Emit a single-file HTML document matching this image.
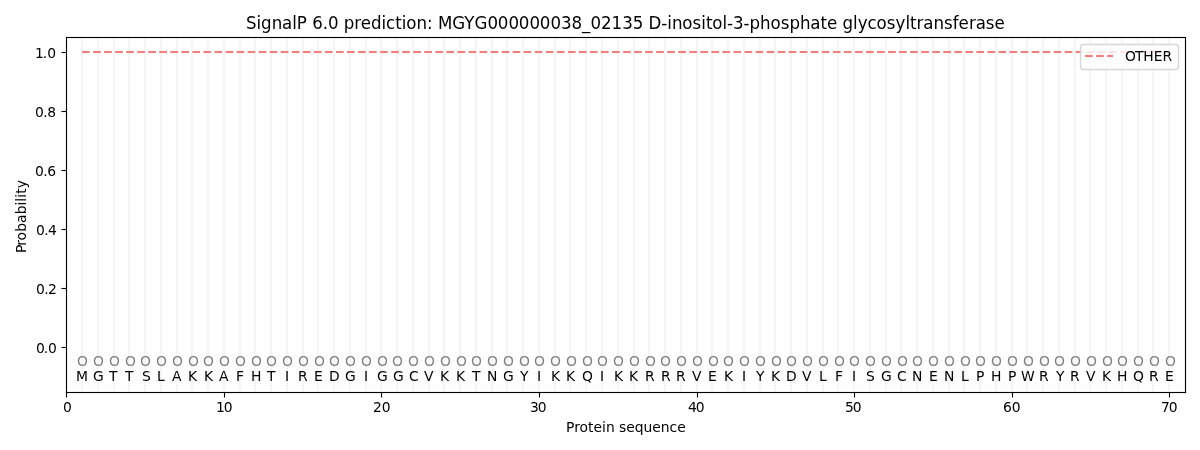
<!DOCTYPE html>
<html lang="en">
<head>
<meta charset="utf-8">
<title>SignalP 6.0 prediction</title>
<style>
html,body{margin:0;padding:0;background:#fff;overflow:hidden}
svg{display:block}
text{white-space:pre}
</style>
</head>
<body>
<svg width="1200" height="450" viewBox="0 0 1200 450" font-family="'DejaVu Sans', 'Liberation Sans', sans-serif" font-size="13.8889px">
<rect width="1200" height="450" fill="#fff"/>
<g fill="#fefefe">
<rect x="80" y="37.5" width="4" height="355.0"/>
<rect x="96" y="37.5" width="4" height="355.0"/>
<rect x="112" y="37.5" width="4" height="355.0"/>
<rect x="127" y="37.5" width="4" height="355.0"/>
<rect x="143" y="37.5" width="4" height="355.0"/>
<rect x="159" y="37.5" width="4" height="355.0"/>
<rect x="175" y="37.5" width="4" height="355.0"/>
<rect x="190" y="37.5" width="4" height="355.0"/>
<rect x="206" y="37.5" width="4" height="355.0"/>
<rect x="222" y="37.5" width="4" height="355.0"/>
<rect x="238" y="37.5" width="4" height="355.0"/>
<rect x="253" y="37.5" width="4" height="355.0"/>
<rect x="269" y="37.5" width="4" height="355.0"/>
<rect x="285" y="37.5" width="4" height="355.0"/>
<rect x="301" y="37.5" width="4" height="355.0"/>
<rect x="316" y="37.5" width="4" height="355.0"/>
<rect x="332" y="37.5" width="4" height="355.0"/>
<rect x="348" y="37.5" width="4" height="355.0"/>
<rect x="364" y="37.5" width="4" height="355.0"/>
<rect x="379" y="37.5" width="4" height="355.0"/>
<rect x="395" y="37.5" width="4" height="355.0"/>
<rect x="411" y="37.5" width="4" height="355.0"/>
<rect x="427" y="37.5" width="4" height="355.0"/>
<rect x="442" y="37.5" width="4" height="355.0"/>
<rect x="458" y="37.5" width="4" height="355.0"/>
<rect x="474" y="37.5" width="4" height="355.0"/>
<rect x="490" y="37.5" width="4" height="355.0"/>
<rect x="505" y="37.5" width="4" height="355.0"/>
<rect x="521" y="37.5" width="4" height="355.0"/>
<rect x="537" y="37.5" width="4" height="355.0"/>
<rect x="553" y="37.5" width="4" height="355.0"/>
<rect x="568" y="37.5" width="4" height="355.0"/>
<rect x="584" y="37.5" width="4" height="355.0"/>
<rect x="600" y="37.5" width="4" height="355.0"/>
<rect x="616" y="37.5" width="4" height="355.0"/>
<rect x="632" y="37.5" width="4" height="355.0"/>
<rect x="647" y="37.5" width="4" height="355.0"/>
<rect x="663" y="37.5" width="4" height="355.0"/>
<rect x="679" y="37.5" width="4" height="355.0"/>
<rect x="695" y="37.5" width="4" height="355.0"/>
<rect x="710" y="37.5" width="4" height="355.0"/>
<rect x="726" y="37.5" width="4" height="355.0"/>
<rect x="742" y="37.5" width="4" height="355.0"/>
<rect x="758" y="37.5" width="4" height="355.0"/>
<rect x="773" y="37.5" width="4" height="355.0"/>
<rect x="789" y="37.5" width="4" height="355.0"/>
<rect x="805" y="37.5" width="4" height="355.0"/>
<rect x="821" y="37.5" width="4" height="355.0"/>
<rect x="836" y="37.5" width="4" height="355.0"/>
<rect x="852" y="37.5" width="4" height="355.0"/>
<rect x="868" y="37.5" width="4" height="355.0"/>
<rect x="884" y="37.5" width="4" height="355.0"/>
<rect x="899" y="37.5" width="4" height="355.0"/>
<rect x="915" y="37.5" width="4" height="355.0"/>
<rect x="931" y="37.5" width="4" height="355.0"/>
<rect x="947" y="37.5" width="4" height="355.0"/>
<rect x="962" y="37.5" width="4" height="355.0"/>
<rect x="978" y="37.5" width="4" height="355.0"/>
<rect x="994" y="37.5" width="4" height="355.0"/>
<rect x="1010" y="37.5" width="4" height="355.0"/>
<rect x="1025" y="37.5" width="4" height="355.0"/>
<rect x="1041" y="37.5" width="4" height="355.0"/>
<rect x="1057" y="37.5" width="4" height="355.0"/>
<rect x="1073" y="37.5" width="4" height="355.0"/>
<rect x="1088" y="37.5" width="4" height="355.0"/>
<rect x="1104" y="37.5" width="4" height="355.0"/>
<rect x="1120" y="37.5" width="4" height="355.0"/>
<rect x="1136" y="37.5" width="4" height="355.0"/>
<rect x="1151" y="37.5" width="4" height="355.0"/>
<rect x="1167" y="37.5" width="4" height="355.0"/>
</g>
<g fill="#f5f5f5">
<rect x="81" y="37.5" width="2" height="355.0"/>
<rect x="97" y="37.5" width="2" height="355.0"/>
<rect x="113" y="37.5" width="2" height="355.0"/>
<rect x="128" y="37.5" width="2" height="355.0"/>
<rect x="144" y="37.5" width="2" height="355.0"/>
<rect x="160" y="37.5" width="2" height="355.0"/>
<rect x="176" y="37.5" width="2" height="355.0"/>
<rect x="191" y="37.5" width="2" height="355.0"/>
<rect x="207" y="37.5" width="2" height="355.0"/>
<rect x="223" y="37.5" width="2" height="355.0"/>
<rect x="239" y="37.5" width="2" height="355.0"/>
<rect x="254" y="37.5" width="2" height="355.0"/>
<rect x="270" y="37.5" width="2" height="355.0"/>
<rect x="286" y="37.5" width="2" height="355.0"/>
<rect x="302" y="37.5" width="2" height="355.0"/>
<rect x="317" y="37.5" width="2" height="355.0"/>
<rect x="333" y="37.5" width="2" height="355.0"/>
<rect x="349" y="37.5" width="2" height="355.0"/>
<rect x="365" y="37.5" width="2" height="355.0"/>
<rect x="380" y="37.5" width="2" height="355.0"/>
<rect x="396" y="37.5" width="2" height="355.0"/>
<rect x="412" y="37.5" width="2" height="355.0"/>
<rect x="428" y="37.5" width="2" height="355.0"/>
<rect x="443" y="37.5" width="2" height="355.0"/>
<rect x="459" y="37.5" width="2" height="355.0"/>
<rect x="475" y="37.5" width="2" height="355.0"/>
<rect x="491" y="37.5" width="2" height="355.0"/>
<rect x="506" y="37.5" width="2" height="355.0"/>
<rect x="522" y="37.5" width="2" height="355.0"/>
<rect x="538" y="37.5" width="2" height="355.0"/>
<rect x="554" y="37.5" width="2" height="355.0"/>
<rect x="569" y="37.5" width="2" height="355.0"/>
<rect x="585" y="37.5" width="2" height="355.0"/>
<rect x="601" y="37.5" width="2" height="355.0"/>
<rect x="617" y="37.5" width="2" height="355.0"/>
<rect x="633" y="37.5" width="2" height="355.0"/>
<rect x="648" y="37.5" width="2" height="355.0"/>
<rect x="664" y="37.5" width="2" height="355.0"/>
<rect x="680" y="37.5" width="2" height="355.0"/>
<rect x="696" y="37.5" width="2" height="355.0"/>
<rect x="711" y="37.5" width="2" height="355.0"/>
<rect x="727" y="37.5" width="2" height="355.0"/>
<rect x="743" y="37.5" width="2" height="355.0"/>
<rect x="759" y="37.5" width="2" height="355.0"/>
<rect x="774" y="37.5" width="2" height="355.0"/>
<rect x="790" y="37.5" width="2" height="355.0"/>
<rect x="806" y="37.5" width="2" height="355.0"/>
<rect x="822" y="37.5" width="2" height="355.0"/>
<rect x="837" y="37.5" width="2" height="355.0"/>
<rect x="853" y="37.5" width="2" height="355.0"/>
<rect x="869" y="37.5" width="2" height="355.0"/>
<rect x="885" y="37.5" width="2" height="355.0"/>
<rect x="900" y="37.5" width="2" height="355.0"/>
<rect x="916" y="37.5" width="2" height="355.0"/>
<rect x="932" y="37.5" width="2" height="355.0"/>
<rect x="948" y="37.5" width="2" height="355.0"/>
<rect x="963" y="37.5" width="2" height="355.0"/>
<rect x="979" y="37.5" width="2" height="355.0"/>
<rect x="995" y="37.5" width="2" height="355.0"/>
<rect x="1011" y="37.5" width="2" height="355.0"/>
<rect x="1026" y="37.5" width="2" height="355.0"/>
<rect x="1042" y="37.5" width="2" height="355.0"/>
<rect x="1058" y="37.5" width="2" height="355.0"/>
<rect x="1074" y="37.5" width="2" height="355.0"/>
<rect x="1089" y="37.5" width="2" height="355.0"/>
<rect x="1105" y="37.5" width="2" height="355.0"/>
<rect x="1121" y="37.5" width="2" height="355.0"/>
<rect x="1137" y="37.5" width="2" height="355.0"/>
<rect x="1152" y="37.5" width="2" height="355.0"/>
<rect x="1168" y="37.5" width="2" height="355.0"/>
</g>
<g fill="#f08080">
<rect x="82" y="50.9583" width="7.7083" height="2.0833"/>
<rect x="93.0417" y="50.9583" width="7.7083" height="2.0833"/>
<rect x="104.0833" y="50.9583" width="7.7083" height="2.0833"/>
<rect x="115.125" y="50.9583" width="7.7083" height="2.0833"/>
<rect x="126.1667" y="50.9583" width="7.7083" height="2.0833"/>
<rect x="137.2083" y="50.9583" width="7.7083" height="2.0833"/>
<rect x="148.25" y="50.9583" width="7.7083" height="2.0833"/>
<rect x="159.2917" y="50.9583" width="7.7083" height="2.0833"/>
<rect x="170.3333" y="50.9583" width="7.7083" height="2.0833"/>
<rect x="181.375" y="50.9583" width="7.7083" height="2.0833"/>
<rect x="192.4167" y="50.9583" width="7.7083" height="2.0833"/>
<rect x="203.4583" y="50.9583" width="7.7083" height="2.0833"/>
<rect x="214.5" y="50.9583" width="7.7083" height="2.0833"/>
<rect x="225.5417" y="50.9583" width="7.7083" height="2.0833"/>
<rect x="236.5833" y="50.9583" width="7.7083" height="2.0833"/>
<rect x="247.625" y="50.9583" width="7.7083" height="2.0833"/>
<rect x="258.6667" y="50.9583" width="7.7083" height="2.0833"/>
<rect x="269.7083" y="50.9583" width="7.7083" height="2.0833"/>
<rect x="280.75" y="50.9583" width="7.7083" height="2.0833"/>
<rect x="291.7917" y="50.9583" width="7.7083" height="2.0833"/>
<rect x="302.8333" y="50.9583" width="7.7083" height="2.0833"/>
<rect x="313.875" y="50.9583" width="7.7083" height="2.0833"/>
<rect x="324.9167" y="50.9583" width="7.7083" height="2.0833"/>
<rect x="335.9583" y="50.9583" width="7.7083" height="2.0833"/>
<rect x="347" y="50.9583" width="7.7083" height="2.0833"/>
<rect x="358.0417" y="50.9583" width="7.7083" height="2.0833"/>
<rect x="369.0833" y="50.9583" width="7.7083" height="2.0833"/>
<rect x="380.125" y="50.9583" width="7.7083" height="2.0833"/>
<rect x="391.1667" y="50.9583" width="7.7083" height="2.0833"/>
<rect x="402.2083" y="50.9583" width="7.7083" height="2.0833"/>
<rect x="413.25" y="50.9583" width="7.7083" height="2.0833"/>
<rect x="424.2917" y="50.9583" width="7.7083" height="2.0833"/>
<rect x="435.3333" y="50.9583" width="7.7083" height="2.0833"/>
<rect x="446.375" y="50.9583" width="7.7083" height="2.0833"/>
<rect x="457.4167" y="50.9583" width="7.7083" height="2.0833"/>
<rect x="468.4583" y="50.9583" width="7.7083" height="2.0833"/>
<rect x="479.5" y="50.9583" width="7.7083" height="2.0833"/>
<rect x="490.5417" y="50.9583" width="7.7083" height="2.0833"/>
<rect x="501.5833" y="50.9583" width="7.7083" height="2.0833"/>
<rect x="512.625" y="50.9583" width="7.7083" height="2.0833"/>
<rect x="523.6667" y="50.9583" width="7.7083" height="2.0833"/>
<rect x="534.7083" y="50.9583" width="7.7083" height="2.0833"/>
<rect x="545.75" y="50.9583" width="7.7083" height="2.0833"/>
<rect x="556.7917" y="50.9583" width="7.7083" height="2.0833"/>
<rect x="567.8333" y="50.9583" width="7.7083" height="2.0833"/>
<rect x="578.875" y="50.9583" width="7.7083" height="2.0833"/>
<rect x="589.9167" y="50.9583" width="7.7083" height="2.0833"/>
<rect x="600.9583" y="50.9583" width="7.7083" height="2.0833"/>
<rect x="612" y="50.9583" width="7.7083" height="2.0833"/>
<rect x="623.0417" y="50.9583" width="7.7083" height="2.0833"/>
<rect x="634.0833" y="50.9583" width="7.7083" height="2.0833"/>
<rect x="645.125" y="50.9583" width="7.7083" height="2.0833"/>
<rect x="656.1667" y="50.9583" width="7.7083" height="2.0833"/>
<rect x="667.2083" y="50.9583" width="7.7083" height="2.0833"/>
<rect x="678.25" y="50.9583" width="7.7083" height="2.0833"/>
<rect x="689.2917" y="50.9583" width="7.7083" height="2.0833"/>
<rect x="700.3333" y="50.9583" width="7.7083" height="2.0833"/>
<rect x="711.375" y="50.9583" width="7.7083" height="2.0833"/>
<rect x="722.4167" y="50.9583" width="7.7083" height="2.0833"/>
<rect x="733.4583" y="50.9583" width="7.7083" height="2.0833"/>
<rect x="744.5" y="50.9583" width="7.7083" height="2.0833"/>
<rect x="755.5417" y="50.9583" width="7.7083" height="2.0833"/>
<rect x="766.5833" y="50.9583" width="7.7083" height="2.0833"/>
<rect x="777.625" y="50.9583" width="7.7083" height="2.0833"/>
<rect x="788.6667" y="50.9583" width="7.7083" height="2.0833"/>
<rect x="799.7083" y="50.9583" width="7.7083" height="2.0833"/>
<rect x="810.75" y="50.9583" width="7.7083" height="2.0833"/>
<rect x="821.7917" y="50.9583" width="7.7083" height="2.0833"/>
<rect x="832.8333" y="50.9583" width="7.7083" height="2.0833"/>
<rect x="843.875" y="50.9583" width="7.7083" height="2.0833"/>
<rect x="854.9167" y="50.9583" width="7.7083" height="2.0833"/>
<rect x="865.9583" y="50.9583" width="7.7083" height="2.0833"/>
<rect x="877" y="50.9583" width="7.7083" height="2.0833"/>
<rect x="888.0417" y="50.9583" width="7.7083" height="2.0833"/>
<rect x="899.0833" y="50.9583" width="7.7083" height="2.0833"/>
<rect x="910.125" y="50.9583" width="7.7083" height="2.0833"/>
<rect x="921.1667" y="50.9583" width="7.7083" height="2.0833"/>
<rect x="932.2083" y="50.9583" width="7.7083" height="2.0833"/>
<rect x="943.25" y="50.9583" width="7.7083" height="2.0833"/>
<rect x="954.2917" y="50.9583" width="7.7083" height="2.0833"/>
<rect x="965.3333" y="50.9583" width="7.7083" height="2.0833"/>
<rect x="976.375" y="50.9583" width="7.7083" height="2.0833"/>
<rect x="987.4167" y="50.9583" width="7.7083" height="2.0833"/>
<rect x="998.4583" y="50.9583" width="7.7083" height="2.0833"/>
<rect x="1009.5" y="50.9583" width="7.7083" height="2.0833"/>
<rect x="1020.5417" y="50.9583" width="7.7083" height="2.0833"/>
<rect x="1031.5833" y="50.9583" width="7.7083" height="2.0833"/>
<rect x="1042.625" y="50.9583" width="7.7083" height="2.0833"/>
<rect x="1053.6667" y="50.9583" width="7.7083" height="2.0833"/>
<rect x="1064.7083" y="50.9583" width="7.7083" height="2.0833"/>
<rect x="1075.75" y="50.9583" width="7.7083" height="2.0833"/>
<rect x="1086.7917" y="50.9583" width="7.7083" height="2.0833"/>
<rect x="1097.8333" y="50.9583" width="7.7083" height="2.0833"/>
<rect x="1108.875" y="50.9583" width="7.7083" height="2.0833"/>
<rect x="1119.9167" y="50.9583" width="7.7083" height="2.0833"/>
<rect x="1130.9583" y="50.9583" width="7.7083" height="2.0833"/>
<rect x="1142" y="50.9583" width="7.7083" height="2.0833"/>
<rect x="1153.0417" y="50.9583" width="7.7083" height="2.0833"/>
<rect x="1164.0833" y="50.9583" width="4.9167" height="2.0833"/>
</g>
<g fill="#808080">
<text x="76.97" y="366.02">O</text>
<text x="92.98" y="366.02">O</text>
<text x="108.99" y="366.02">O</text>
<text x="124.99" y="366.02">O</text>
<text x="140" y="366.02">O</text>
<text x="155.88" y="366.02">O</text>
<text x="171.89" y="366.02">O</text>
<text x="187.89" y="366.02">O</text>
<text x="202.9" y="366.02">O</text>
<text x="218.91" y="366.02">O</text>
<text x="234.91" y="366.02">O</text>
<text x="250.92" y="366.02">O</text>
<text x="265.93" y="366.02">O</text>
<text x="281.93" y="366.02">O</text>
<text x="297.94" y="366.02">O</text>
<text x="313.95" y="366.02">O</text>
<text x="328.95" y="366.02">O</text>
<text x="344.96" y="366.02">O</text>
<text x="360.97" y="366.02">O</text>
<text x="376.97" y="366.02">O</text>
<text x="391.98" y="366.02">O</text>
<text x="407.99" y="366.02">O</text>
<text x="423.99" y="366.02">O</text>
<text x="440" y="366.02">O</text>
<text x="455.88" y="366.02">O</text>
<text x="470.89" y="366.02">O</text>
<text x="486.89" y="366.02">O</text>
<text x="502.9" y="366.02">O</text>
<text x="518.91" y="366.02">O</text>
<text x="533.91" y="366.02">O</text>
<text x="549.92" y="366.02">O</text>
<text x="565.93" y="366.02">O</text>
<text x="581.93" y="366.02">O</text>
<text x="596.94" y="366.02">O</text>
<text x="612.95" y="366.02">O</text>
<text x="628.95" y="366.02">O</text>
<text x="644.96" y="366.02">O</text>
<text x="659.97" y="366.02">O</text>
<text x="675.97" y="366.02">O</text>
<text x="691.98" y="366.02">O</text>
<text x="707.99" y="366.02">O</text>
<text x="722.99" y="366.02">O</text>
<text x="738.88" y="366.02">O</text>
<text x="754.88" y="366.02">O</text>
<text x="770.89" y="366.02">O</text>
<text x="785.9" y="366.02">O</text>
<text x="801.9" y="366.02">O</text>
<text x="817.91" y="366.02">O</text>
<text x="833.92" y="366.02">O</text>
<text x="848.92" y="366.02">O</text>
<text x="864.93" y="366.02">O</text>
<text x="880.94" y="366.02">O</text>
<text x="896.94" y="366.02">O</text>
<text x="911.95" y="366.02">O</text>
<text x="927.96" y="366.02">O</text>
<text x="943.96" y="366.02">O</text>
<text x="959.97" y="366.02">O</text>
<text x="974.98" y="366.02">O</text>
<text x="990.98" y="366.02">O</text>
<text x="1006.99" y="366.02">O</text>
<text x="1023" y="366.02">O</text>
<text x="1038.88" y="366.02">O</text>
<text x="1053.88" y="366.02">O</text>
<text x="1069.89" y="366.02">O</text>
<text x="1085.9" y="366.02">O</text>
<text x="1101.9" y="366.02">O</text>
<text x="1116.91" y="366.02">O</text>
<text x="1132.92" y="366.02">O</text>
<text x="1148.92" y="366.02">O</text>
<text x="1164.93" y="366.02">O</text>
</g>
<g>
<text x="75.91" y="380.79">M</text>
<text x="92.92" y="380.79">G</text>
<text x="108.92" y="380.79">T</text>
<text x="124.93" y="380.79">T</text>
<text x="141.94" y="380.79">S</text>
<text x="156.94" y="380.79">L</text>
<text x="171.95" y="380.79">A</text>
<text x="187.96" y="380.79">K</text>
<text x="203.96" y="380.79">K</text>
<text x="218.97" y="380.79">A</text>
<text x="235.98" y="380.79">F</text>
<text x="250.92" y="380.79">H</text>
<text x="266.99" y="380.79">T</text>
<text x="285" y="380.79">I</text>
<text x="297.94" y="380.79">R</text>
<text x="313.88" y="380.79">E</text>
<text x="328.89" y="380.79">D</text>
<text x="344.9" y="380.79">G</text>
<text x="363.9" y="380.79">I</text>
<text x="376.91" y="380.79">G</text>
<text x="392.92" y="380.79">G</text>
<text x="408.92" y="380.79">C</text>
<text x="423.93" y="380.79">V</text>
<text x="439.94" y="380.79">K</text>
<text x="455.94" y="380.79">K</text>
<text x="471.95" y="380.79">T</text>
<text x="486.89" y="380.79">N</text>
<text x="502.96" y="380.79">G</text>
<text x="519.91" y="380.79">Y</text>
<text x="536.98" y="380.79">I</text>
<text x="550.98" y="380.79">K</text>
<text x="565.99" y="380.79">K</text>
<text x="581.93" y="380.79">Q</text>
<text x="599.88" y="380.79">I</text>
<text x="613.89" y="380.79">K</text>
<text x="628.89" y="380.79">K</text>
<text x="644.96" y="380.79">R</text>
<text x="660.97" y="380.79">R</text>
<text x="675.97" y="380.79">R</text>
<text x="691.92" y="380.79">V</text>
<text x="707.93" y="380.79">E</text>
<text x="723.93" y="380.79">K</text>
<text x="741.94" y="380.79">I</text>
<text x="755.88" y="380.79">Y</text>
<text x="770.95" y="380.79">K</text>
<text x="785.96" y="380.79">D</text>
<text x="801.97" y="380.79">V</text>
<text x="818.97" y="380.79">L</text>
<text x="834.98" y="380.79">F</text>
<text x="851.99" y="380.79">I</text>
<text x="865.99" y="380.79">S</text>
<text x="881" y="380.79">G</text>
<text x="896.88" y="380.79">C</text>
<text x="911.95" y="380.79">N</text>
<text x="928.89" y="380.79">E</text>
<text x="943.96" y="380.79">N</text>
<text x="960.91" y="380.79">L</text>
<text x="975.98" y="380.79">P</text>
<text x="990.98" y="380.79">H</text>
<text x="1007.99" y="380.79">P</text>
<text x="1020.93" y="380.79">W</text>
<text x="1038.88" y="380.79">R</text>
<text x="1055.88" y="380.79">Y</text>
<text x="1069.89" y="380.79">R</text>
<text x="1085.96" y="380.79">V</text>
<text x="1101.97" y="380.79">K</text>
<text x="1116.91" y="380.79">H</text>
<text x="1132.92" y="380.79">Q</text>
<text x="1148.92" y="380.79">R</text>
<text x="1164.99" y="380.79">E</text>
</g>
<g fill="#000">
<rect x="65.9444" y="36.9444" width="1.1111" height="356.1111"/>
<rect x="1184.9444" y="36.9444" width="1.1111" height="356.1111"/>
<rect x="65.9444" y="391.9444" width="1120.1111" height="1.1111"/>
<rect x="65.9444" y="36.9444" width="1120.1111" height="1.1111"/>
<rect x="65.9444" y="392.5" width="1.1111" height="5"/>
<rect x="223.9444" y="392.5" width="1.1111" height="5"/>
<rect x="380.9444" y="392.5" width="1.1111" height="5"/>
<rect x="538.9444" y="392.5" width="1.1111" height="5"/>
<rect x="696.9444" y="392.5" width="1.1111" height="5"/>
<rect x="853.9444" y="392.5" width="1.1111" height="5"/>
<rect x="1011.9444" y="392.5" width="1.1111" height="5"/>
<rect x="1168.9444" y="392.5" width="1.1111" height="5"/>
<rect x="61.5" y="346.9444" width="5" height="1.1111"/>
<rect x="61.5" y="287.9444" width="5" height="1.1111"/>
<rect x="61.5" y="228.9444" width="5" height="1.1111"/>
<rect x="61.5" y="169.9444" width="5" height="1.1111"/>
<rect x="61.5" y="110.9444" width="5" height="1.1111"/>
<rect x="61.5" y="51.9444" width="5" height="1.1111"/>
</g>
<text x="62.9" y="412">0</text>
<text x="215.91 223.78" y="412">10</text>
<text x="372.91 381.66" y="412">20</text>
<text x="529.98 537.85" y="412">30</text>
<text x="687.92 695.79" y="412">40</text>
<text x="844.99 852.86" y="412">50</text>
<text x="1002.99 1011.86" y="412">60</text>
<text x="1160.99 1168.87" y="412">70</text>
<text x="35.93 43.68 48.06" y="352.7">0.0</text>
<text x="35.93 44.18 48.06" y="293.64">0.2</text>
<text x="35.93 44.18 48.06" y="234.57">0.4</text>
<text x="34.93 43.18 47.31" y="175.51">0.6</text>
<text x="34.93 43.18 47.31" y="117.44">0.8</text>
<text x="34.93 42.81 47.31" y="58.38">1.0</text>
<text x="565.89 574.14 579.51 588.01 593.51 602.01 605.89 614.64 619.01 626.14 634.64 643.51 652.26 660.76 669.51 677.14" y="432">Protein sequence</text>
<text transform="translate(25.52 216.9) rotate(-90)" x="-36.19 -28.81 -23.56 -14.81 -6.06 2.56 11.31 15.19 19.19 23.19 28.69" y="0">Probability</text>
<text transform="scale(0.98039 1)" x="250.87 261.71 266.3 277.14 287.72 298.05 302.76 313.09 318.45 329.16 334.51 345.22 350.58 361.29 367.92 378.37 389.21 393.8 403.11 409.74 414.45 424.78 435.49 441.36 446.71 461.37 473.61 483.94 497.2 507.78 518.62 529.2 540.04 550.62 561.46 572.17 582.88 593.59 602.26 612.97 623.68 634.65 645.36 656.07 661.42 674.55 680.55 685.39 695.97 706.3 715.35 720.07 726.57 736.9 741.62 747.61 758.45 764.44 775.15 785.99 796.32 805.24 815.95 826.53 836.86 843.49 853.95 859.3 870.14 874.86 884.8 894.11 904.44 913.36 923.56 928.15 934.78 941.79 952.12 962.83 971.76 977.75 988.33 995.34 1005.54 1014.47" y="29" font-size="17px">SignalP 6.0 prediction: MGYG000000038_02135 D-inositol-3-phosphate glycosyltransferase</text>
<path d="M1083.5 69.5H1175.5Q1178.5 69.5 1178.5 66.5V47.5Q1178.5 44.5 1175.5 44.5H1083.5Q1080.5 44.5 1080.5 47.5V66.5Q1080.5 69.5 1083.5 69.5z" fill="#fff" fill-opacity="0.8" stroke="#ccc" stroke-opacity="0.8" stroke-width="1.3889" stroke-linejoin="miter"/>
<g fill="#f08080">
<rect x="1085" y="54.9583" width="7.7083" height="2.0833"/>
<rect x="1096.0417" y="54.9583" width="7.7083" height="2.0833"/>
<rect x="1107.0833" y="54.9583" width="5.9167" height="2.0833"/>
</g>
<text x="1124.96 1135.09 1143.34 1153.84 1162.59" y="61.39">OTHER</text>
</svg>
</body>
</html>
